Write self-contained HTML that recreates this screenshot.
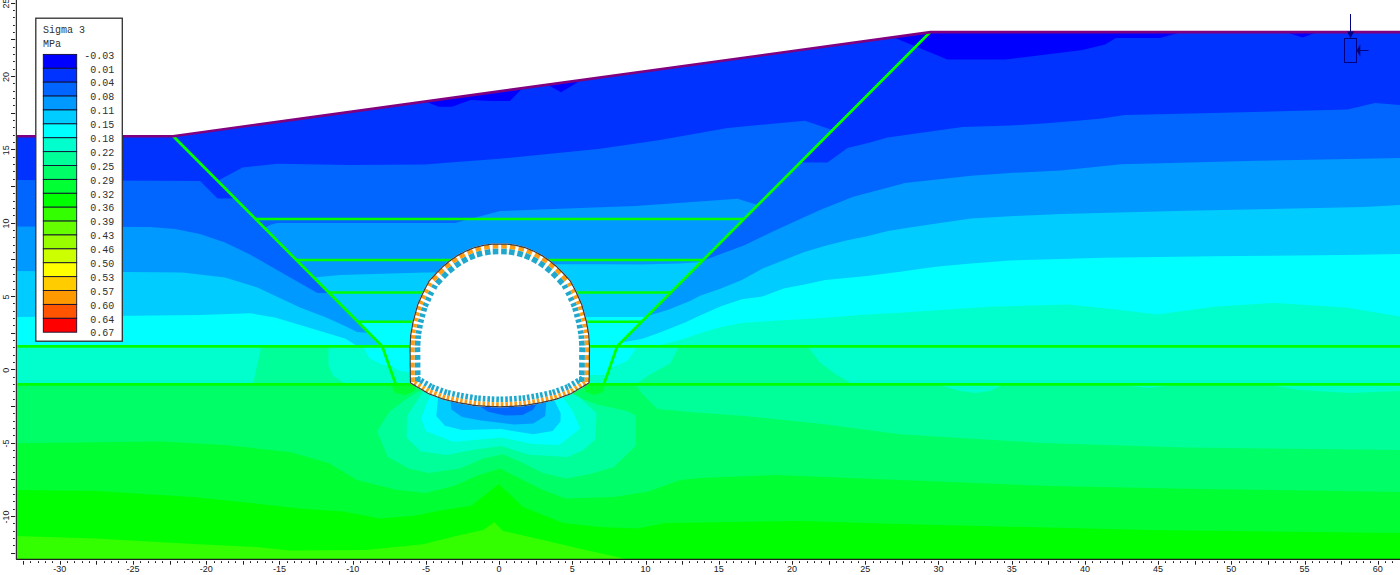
<!DOCTYPE html>
<html><head><meta charset="utf-8"><title>Sigma 3</title>
<style>html,body{margin:0;padding:0;background:#fff;overflow:hidden}svg{display:block}</style></head>
<body><svg width="1400" height="575" viewBox="0 0 1400 575">
<rect width="1400" height="575" fill="#fff"/>
<polygon points="16.0,136.0 173.0,136.0 930.5,31.7 1400.0,31.7 1400.0,559.5 16.0,559.5" fill="#0033ff" />
<polygon points="425.0,101.3 438.5,106.7 451.9,106.7 470.7,100.0 491.0,100.9 510.0,100.9 522.6,87.9" fill="#0000ff" />
<polygon points="547.0,84.5 561.0,92.2 582.3,79.6" fill="#0000ff" />
<polygon points="892.5,36.9 930.5,31.7 1182.5,31.7 1160.0,38.0 1116.0,38.0 1105.0,44.5 1082.5,50.0 1005.0,59.5 947.5,59.5" fill="#0000ff" />
<polygon points="1285.0,31.7 1302.5,37.5 1318.0,31.7" fill="#0000ff" />
<polygon points="16.0,180.0 200.0,181.0 217.5,198.5 235.4,198.5 382.2,346.3 16.0,346.3" fill="#0066ff" />
<polygon points="16.0,226.5 150.0,227.0 175.0,229.0 200.0,234.0 225.0,242.5 250.0,254.5 287.5,276.0 317.5,293.0 329.3,293.0 382.2,346.3 16.0,346.3" fill="#0099ff" />
<polygon points="16.0,271.0 182.5,272.5 225.0,277.5 257.5,287.5 300.0,307.5 325.0,317.0 346.0,326.5 357.0,332.0 369.0,333.0 382.2,346.3 16.0,346.3" fill="#00ccff" />
<polygon points="16.0,317.0 200.0,315.0 250.0,313.2 275.0,317.5 300.0,325.0 325.0,332.5 345.7,338.8 354.3,344.2 357.0,346.3 16.0,346.3" fill="#00ffff" />
<polygon points="800.0,162.5 827.5,162.5 847.5,148.0 870.0,142.5 887.5,137.5 962.5,127.0 1010.0,125.5 1050.0,123.0 1100.0,118.8 1125.0,115.0 1212.5,113.0 1347.5,109.5 1375.0,103.0 1400.0,105.0 1400.0,346.3 617.2,346.3" fill="#0066ff" />
<polygon points="702.0,261.0 745.0,245.0 775.0,230.5 820.0,210.0 852.5,197.0 905.0,183.0 971.0,175.7 1009.5,173.0 1060.7,170.4 1121.0,164.3 1257.0,160.7 1400.0,157.9 1400.0,346.3 617.2,346.3" fill="#0099ff" />
<polygon points="647.3,316.0 667.5,310.0 690.0,301.0 700.0,295.8 720.9,288.5 741.8,280.1 762.6,268.6 783.5,260.3 804.4,251.9 825.3,245.7 846.1,240.4 867.0,236.3 887.9,231.0 909.5,227.5 935.0,223.8 971.0,218.6 1009.5,216.2 1060.7,214.0 1185.7,210.7 1364.0,207.0 1400.0,205.0 1400.0,346.3 617.2,346.3" fill="#00ccff" />
<polygon points="621.0,342.5 642.5,338.8 660.0,332.5 685.0,322.5 700.0,315.6 720.9,306.2 741.8,299.2 762.6,296.5 783.5,288.5 804.4,284.5 825.3,280.1 846.1,278.0 867.0,276.0 900.0,271.8 935.7,266.7 971.0,263.5 1010.0,260.4 1103.0,257.8 1214.0,256.3 1344.0,254.9 1400.0,254.1 1400.0,346.3 617.2,346.3" fill="#00ffff" />
<polygon points="655.0,346.3 680.0,340.0 700.0,333.3 720.9,327.0 741.8,322.9 783.5,320.2 825.3,317.7 867.0,314.6 900.0,312.7 989.0,306.8 1068.0,304.6 1114.0,309.3 1157.0,314.6 1214.0,306.8 1275.0,302.9 1346.0,307.5 1400.0,316.4 1400.0,346.3" fill="#00ffcc" />
<polygon points="217.8,180.8 242.5,167.5 277.5,163.8 350.0,165.0 425.0,164.5 450.0,162.5 499.5,158.8 600.0,148.8 660.0,140.0 727.5,128.0 805.0,120.8 832.3,130.0 617.2,346.3 382.2,346.3" fill="#0066ff" />
<polygon points="264.7,228.0 270.0,225.0 277.0,223.0 455.0,223.0 500.0,211.0 560.0,208.8 635.0,206.0 685.0,202.5 737.5,198.8 757.7,205.0 617.2,346.3 382.2,346.3" fill="#0099ff" />
<polygon points="313.9,277.5 340.0,275.0 425.0,272.5 445.0,272.5 445.0,264.3 600.0,264.3 640.0,264.5 680.0,263.5 701.0,262.0 617.2,346.3 382.2,346.3" fill="#00ccff" />
<polygon points="357.8,321.8 430.0,321.8 430.0,317.0 646.4,317.0 617.2,346.3 382.2,346.3" fill="#00ffff" />
<polygon points="16.0,346.3 1400.0,346.3 1400.0,384.3 16.0,384.3" fill="#00ffcc" />
<polygon points="261.5,346.3 328.4,346.3 328.4,364.7 332.7,375.5 345.7,384.3 253.0,384.3" fill="#00ff99" />
<polygon points="363.0,346.3 369.4,358.2 382.3,364.7 390.0,366.0 400.0,371.0 411.0,372.5 411.0,346.3" fill="#00ffff" />
<polygon points="679.0,346.3 670.4,363.3 648.7,375.2 635.7,384.3 852.5,384.3 835.0,373.8 820.0,362.5 807.5,346.3" fill="#00ff99" />
<polygon points="589.0,346.3 636.5,346.3 635.0,350.0 627.0,361.0 611.7,367.6 606.0,375.0 589.0,375.0" fill="#00ffff" />
<polygon points="16.0,384.3 1400.0,384.3 1400.0,559.5 16.0,559.5" fill="#00ff66" />
<polygon points="635.7,384.3 642.0,393.7 657.4,409.0 690.0,412.0 745.0,416.0 820.0,423.8 900.0,434.3 1043.0,443.0 1186.0,447.5 1400.0,450.0 1400.0,384.3" fill="#00ff99" />
<polygon points="936.0,384.3 960.0,391.0 975.0,393.0 990.0,391.0 1004.0,384.3" fill="#00ffcc" />
<polygon points="1114.0,384.3 1148.0,388.0 1182.0,384.3" fill="#00ffcc" />
<polygon points="1264.0,384.3 1300.0,390.0 1350.0,393.0 1400.0,391.0 1400.0,384.3" fill="#00ffcc" />
<polygon points="16.0,443.2 161.0,441.6 225.0,445.0 289.6,452.0 328.6,463.0 357.0,480.0 397.0,490.0 425.7,493.0 454.3,485.7 477.0,475.7 500.0,468.6 517.0,477.0 543.0,490.0 565.7,498.6 614.0,497.0 648.6,491.4 680.0,480.0 700.0,478.0 775.0,475.0 900.0,480.0 1050.0,486.0 1200.0,489.0 1400.0,492.0 1400.0,559.5 16.0,559.5" fill="#00ff33" />
<polygon points="16.0,490.0 96.5,491.0 193.0,497.0 257.0,503.7 300.0,508.6 343.0,511.4 380.0,518.6 414.0,515.7 443.0,510.0 471.4,505.7 485.7,494.3 498.6,484.3 511.4,495.7 523.0,507.0 563.0,523.0 600.0,527.0 637.0,528.6 665.7,523.0 700.0,522.5 800.0,521.0 900.0,524.0 1000.0,526.5 1150.0,530.0 1400.0,533.0 1400.0,559.5 16.0,559.5" fill="#00ff00" />
<polygon points="16.0,536.0 96.5,538.5 193.0,544.0 257.0,547.0 289.6,550.4 365.7,550.0 423.0,544.3 457.0,535.7 483.0,530.0 494.3,522.3 503.0,530.9 543.0,540.0 585.7,550.0 628.6,559.5 16.0,559.5" fill="#33ff00" />
<polygon points="417.4,392.0 403.5,401.0 389.6,411.5 377.0,431.3 387.8,457.0 408.6,468.6 428.6,472.9 460.0,468.6 483.0,458.6 503.0,454.3 523.0,463.0 543.0,473.0 565.7,478.6 590.0,474.0 614.0,467.0 635.7,445.7 635.7,415.4 627.0,411.0 596.5,404.6 572.6,395.0 560.0,386.0 440.0,386.0" fill="#00ff99" />
<polygon points="423.3,391.0 407.0,416.0 406.5,437.5 421.0,451.5 447.0,455.0 475.0,449.4 501.0,446.0 529.0,454.8 567.8,457.0 583.5,450.0 595.4,439.3 596.5,413.3 578.6,396.6 570.4,393.0 560.0,386.0 440.0,386.0" fill="#00ffcc" />
<polygon points="430.9,393.0 421.2,418.0 425.5,431.0 453.5,441.9 501.0,437.5 533.3,444.0 559.2,445.0 580.2,428.5 572.6,411.0 561.7,396.0 560.0,386.0 440.0,386.0" fill="#00ffff" />
<polygon points="438.4,395.0 436.3,416.0 444.9,425.7 462.0,430.0 501.0,429.0 533.3,434.3 552.7,431.0 560.5,421.4 560.7,413.3 553.0,398.0 560.0,386.0 440.0,386.0" fill="#00ccff" />
<polygon points="450.3,398.0 451.4,409.5 462.0,417.0 479.4,420.3 514.0,424.6 533.3,423.5 545.2,416.0 546.5,400.0 560.0,386.0 440.0,386.0" fill="#0099ff" />
<polygon points="475.0,403.0 488.0,411.7 505.3,415.5 522.5,415.0 533.3,409.5 537.6,402.0 500.0,395.0" fill="#0066ff" />
<polygon points="391.0,384.3 417.0,384.3 414.0,391.0 405.0,395.0 395.0,393.0" fill="#00ff33" />
<polygon points="583.0,384.3 605.0,384.3 603.0,392.0 594.0,395.0 586.0,392.0" fill="#00ff33" />
<line x1="16.0" y1="346.3" x2="1400.0" y2="346.3" stroke="#00ff00" stroke-width="2.70" />
<line x1="16.0" y1="384.3" x2="1400.0" y2="384.3" stroke="#00ff00" stroke-width="2.70" />
<polyline points="173,136 382.2,346.3 395.6,384" fill="none" stroke="#00ff00" stroke-width="2.70"/>
<polyline points="930.5,31.7 617.2,346.3 604,384" fill="none" stroke="#00ff00" stroke-width="2.70"/>
<line x1="255.8" y1="219.0" x2="743.8" y2="219.0" stroke="#00ff00" stroke-width="2.60" />
<line x1="296.5" y1="260.0" x2="703.0" y2="260.0" stroke="#00ff00" stroke-width="2.60" />
<line x1="328.8" y1="292.5" x2="670.7" y2="292.5" stroke="#00ff00" stroke-width="2.60" />
<line x1="357.8" y1="321.8" x2="641.6" y2="321.8" stroke="#00ff00" stroke-width="2.60" />
<polyline points="16,136.2 173,136.2 930.5,32.1 1400,32.1" fill="none" stroke="#800080" stroke-width="2.6"/>
<polygon points="499.8,243.4 498.7,243.4 497.7,243.4 496.7,243.4 495.6,243.4 494.6,243.5 493.6,243.5 492.5,243.5 491.5,243.5 490.5,243.7 489.4,243.8 488.4,244.0 487.4,244.2 486.4,244.3 485.4,244.5 484.3,244.6 483.3,244.8 482.3,245.0 481.3,245.3 480.3,245.5 479.3,245.8 478.2,246.0 477.2,246.3 476.2,246.5 475.2,246.8 474.2,247.0 473.2,247.4 472.2,247.8 471.2,248.2 470.2,248.6 469.2,249.1 468.2,249.5 467.2,249.9 466.2,250.3 465.2,250.7 464.3,251.2 463.4,251.7 462.5,252.2 461.6,252.7 460.7,253.1 459.8,253.6 458.9,254.1 458.0,254.6 457.1,255.1 456.2,255.6 455.4,256.2 454.5,256.8 453.7,257.4 452.8,257.9 452.0,258.5 451.1,259.1 450.3,259.7 449.4,260.4 448.6,261.1 447.7,261.8 446.9,262.5 446.0,263.2 445.2,263.9 444.3,264.6 443.5,265.3 442.6,266.0 441.9,266.7 441.2,267.5 440.4,268.2 439.7,268.9 439.0,269.6 438.3,270.4 437.6,271.1 436.8,271.8 436.1,272.6 435.4,273.3 434.7,274.0 434.0,274.8 433.4,275.5 432.7,276.3 432.0,277.0 431.3,277.7 430.6,278.5 430.0,279.2 429.3,280.0 428.6,280.7 428.1,281.6 427.7,282.5 427.2,283.4 426.7,284.3 426.2,285.2 425.8,286.0 425.3,286.9 424.8,287.8 424.3,288.7 423.9,289.6 423.4,290.5 423.0,291.4 422.6,292.3 422.2,293.3 421.7,294.2 421.3,295.1 420.9,296.0 420.5,296.9 420.1,297.9 419.7,298.8 419.3,299.7 418.9,300.6 418.4,301.5 418.0,302.5 417.6,303.4 417.2,304.3 416.9,305.3 416.6,306.3 416.4,307.3 416.1,308.3 415.8,309.3 415.5,310.3 415.3,311.3 415.0,312.3 414.7,313.4 414.4,314.4 414.2,315.4 413.9,316.4 413.6,317.4 413.3,318.4 413.1,319.4 412.8,320.4 412.5,321.4 412.3,322.4 412.1,323.4 411.9,324.5 411.8,325.5 411.6,326.5 411.4,327.5 411.2,328.6 411.0,329.6 410.8,330.6 410.7,331.6 410.5,332.7 410.3,333.7 410.1,334.7 410.0,335.8 410.0,336.8 409.9,337.9 409.8,338.9 409.8,340.0 409.7,341.0 409.7,342.1 409.6,343.1 409.5,344.2 409.5,345.2 409.4,346.3 409.4,347.4 409.4,348.4 409.4,349.5 409.4,350.5 409.4,351.6 409.4,352.6 409.5,353.7 409.5,354.7 409.5,355.8 409.5,356.8 409.5,357.9 409.5,358.9 409.5,360.0 409.5,361.0 409.5,362.1 409.5,363.1 409.5,364.2 409.5,365.2 409.5,366.3 409.5,367.3 409.6,368.4 409.6,369.4 409.6,370.5 409.6,371.5 409.6,372.6 409.6,373.6 409.6,374.7 409.6,375.7 409.6,376.8 409.7,377.9 409.7,379.0 409.7,380.0 409.7,381.1 409.8,382.2 409.8,383.3 410.7,383.8 411.6,384.3 412.5,384.9 413.4,385.4 414.3,385.9 415.1,386.4 416.0,387.0 416.9,387.5 417.8,388.0 418.7,388.5 419.6,389.1 420.5,389.6 421.4,390.1 422.3,390.6 423.2,391.2 424.0,391.7 424.9,392.2 425.8,392.7 426.7,393.3 427.6,393.8 428.5,394.3 429.5,394.7 430.4,395.0 431.4,395.4 432.4,395.8 433.4,396.1 434.4,396.5 435.3,396.8 436.3,397.2 437.3,397.6 438.2,397.9 439.2,398.3 440.2,398.7 441.2,399.0 442.2,399.4 443.1,399.7 444.1,400.1 445.1,400.3 446.1,400.5 447.0,400.8 448.0,401.0 449.0,401.2 450.0,401.4 451.0,401.6 452.0,401.9 452.9,402.1 453.9,402.3 454.9,402.5 455.9,402.7 456.9,402.9 457.8,403.2 458.8,403.4 459.8,403.6 460.8,403.8 461.9,403.9 462.9,404.1 464.0,404.3 465.0,404.5 466.0,404.6 467.1,404.8 468.1,405.0 469.2,405.2 470.2,405.3 471.2,405.5 472.3,405.7 473.3,405.9 474.4,406.0 475.4,406.2 476.4,406.3 477.5,406.3 478.5,406.4 479.6,406.5 480.6,406.5 481.7,406.6 482.7,406.7 483.8,406.7 484.8,406.8 485.9,406.9 486.9,406.9 488.0,407.0 489.0,407.1 490.1,407.1 491.1,407.2 492.2,407.2 493.3,407.2 494.3,407.3 495.4,407.3 496.5,407.3 497.6,407.3 498.7,407.4 499.8,407.4 500.8,407.4 501.9,407.3 503.0,407.3 504.1,407.3 505.2,407.3 506.2,407.2 507.3,407.2 508.4,407.2 509.4,407.1 510.5,407.1 511.5,407.0 512.6,406.9 513.6,406.9 514.7,406.8 515.7,406.7 516.8,406.7 517.8,406.6 518.9,406.5 519.9,406.5 521.0,406.4 522.0,406.3 523.1,406.3 524.1,406.2 525.1,406.0 526.2,405.9 527.2,405.7 528.3,405.5 529.3,405.3 530.3,405.2 531.4,405.0 532.4,404.8 533.5,404.6 534.5,404.5 535.5,404.3 536.6,404.1 537.6,403.9 538.7,403.8 539.7,403.6 540.7,403.4 541.7,403.2 542.6,402.9 543.6,402.7 544.6,402.5 545.6,402.3 546.6,402.1 547.5,401.9 548.5,401.6 549.5,401.4 550.5,401.2 551.5,401.0 552.5,400.8 553.4,400.5 554.4,400.3 555.4,400.1 556.4,399.7 557.3,399.4 558.3,399.0 559.3,398.7 560.3,398.3 561.2,397.9 562.2,397.6 563.2,397.2 564.2,396.8 565.1,396.5 566.1,396.1 567.1,395.8 568.1,395.4 569.0,395.0 570.0,394.7 571.0,394.3 571.9,393.8 572.8,393.3 573.7,392.7 574.6,392.2 575.5,391.7 576.3,391.2 577.2,390.6 578.1,390.1 579.0,389.6 579.9,389.1 580.8,388.5 581.7,388.0 582.6,387.5 583.5,387.0 584.4,386.4 585.2,385.9 586.1,385.4 587.0,384.9 587.9,384.3 588.8,383.8 589.7,383.3 589.7,382.2 589.8,381.1 589.8,380.0 589.8,379.0 589.8,377.9 589.9,376.8 589.9,375.7 589.9,374.7 589.9,373.6 589.9,372.6 589.9,371.5 589.9,370.5 589.9,369.4 589.9,368.4 590.0,367.3 590.0,366.3 590.0,365.2 590.0,364.2 590.0,363.1 590.0,362.1 590.0,361.0 590.0,360.0 590.0,358.9 590.0,357.9 590.0,356.8 590.0,355.8 590.0,354.7 590.0,353.7 590.1,352.6 590.1,351.6 590.1,350.5 590.1,349.5 590.1,348.4 590.1,347.4 590.1,346.3 590.0,345.2 590.0,344.2 589.9,343.1 589.8,342.1 589.8,341.0 589.7,340.0 589.7,338.9 589.6,337.9 589.5,336.8 589.5,335.8 589.4,334.7 589.2,333.7 589.0,332.7 588.8,331.6 588.7,330.6 588.5,329.6 588.3,328.6 588.1,327.5 587.9,326.5 587.7,325.5 587.6,324.5 587.4,323.4 587.2,322.4 587.0,321.4 586.7,320.4 586.4,319.4 586.2,318.4 585.9,317.4 585.6,316.4 585.3,315.4 585.1,314.4 584.8,313.4 584.5,312.3 584.2,311.3 584.0,310.3 583.7,309.3 583.4,308.3 583.1,307.3 582.9,306.3 582.6,305.3 582.3,304.3 581.9,303.4 581.5,302.5 581.1,301.5 580.6,300.6 580.2,299.7 579.8,298.8 579.4,297.9 579.0,296.9 578.6,296.0 578.2,295.1 577.8,294.2 577.3,293.3 576.9,292.3 576.5,291.4 576.1,290.5 575.6,289.6 575.2,288.7 574.7,287.8 574.2,286.9 573.7,286.0 573.3,285.2 572.8,284.3 572.3,283.4 571.8,282.5 571.4,281.6 570.9,280.7 570.2,280.0 569.5,279.2 568.9,278.5 568.2,277.7 567.5,277.0 566.8,276.3 566.1,275.5 565.5,274.8 564.8,274.0 564.1,273.3 563.4,272.6 562.7,271.8 561.9,271.1 561.2,270.4 560.5,269.6 559.8,268.9 559.1,268.2 558.3,267.5 557.6,266.7 556.9,266.0 556.0,265.3 555.2,264.6 554.3,263.9 553.5,263.2 552.6,262.5 551.8,261.8 550.9,261.1 550.1,260.4 549.2,259.7 548.4,259.1 547.5,258.5 546.7,257.9 545.8,257.4 545.0,256.8 544.1,256.2 543.3,255.6 542.4,255.1 541.5,254.6 540.6,254.1 539.7,253.6 538.8,253.1 537.9,252.7 537.0,252.2 536.1,251.7 535.2,251.2 534.3,250.7 533.3,250.3 532.3,249.9 531.3,249.5 530.3,249.1 529.3,248.6 528.3,248.2 527.3,247.8 526.3,247.4 525.3,247.0 524.3,246.8 523.3,246.5 522.3,246.3 521.3,246.0 520.2,245.8 519.2,245.5 518.2,245.3 517.2,245.0 516.2,244.8 515.2,244.6 514.1,244.5 513.1,244.3 512.1,244.2 511.1,244.0 510.1,243.8 509.0,243.7 508.0,243.5 507.0,243.5 505.9,243.5 504.9,243.5 503.9,243.4 502.8,243.4 501.8,243.4 500.8,243.4" fill="#ffffff" />
<polygon points="498.3,248.5 492.7,248.6 492.8,254.4 498.4,254.3" fill="#1fa8cc" />
<polygon points="506.8,248.6 501.2,248.5 501.1,254.3 506.7,254.4" fill="#1fa8cc" />
<polygon points="490.0,248.9 484.5,249.8 485.4,255.5 490.9,254.6" fill="#1fa8cc" />
<polygon points="515.0,249.8 509.5,248.9 508.6,254.6 514.1,255.5" fill="#1fa8cc" />
<polygon points="481.5,250.5 476.0,251.8 477.4,257.4 482.8,256.1" fill="#1fa8cc" />
<polygon points="523.5,251.8 518.0,250.5 516.7,256.1 522.1,257.4" fill="#1fa8cc" />
<polygon points="473.5,252.8 468.3,254.9 470.6,260.3 475.7,258.2" fill="#1fa8cc" />
<polygon points="531.2,254.9 526.0,252.8 523.8,258.2 528.9,260.3" fill="#1fa8cc" />
<polygon points="465.7,256.2 460.8,258.9 463.6,264.0 468.5,261.3" fill="#1fa8cc" />
<polygon points="538.7,258.9 533.8,256.2 531.0,261.3 535.9,264.0" fill="#1fa8cc" />
<polygon points="458.3,260.4 453.7,263.6 457.0,268.3 461.6,265.1" fill="#1fa8cc" />
<polygon points="545.8,263.6 541.2,260.4 537.9,265.1 542.5,268.3" fill="#1fa8cc" />
<polygon points="451.3,265.5 447.0,269.0 450.6,273.5 455.0,270.0" fill="#1fa8cc" />
<polygon points="552.5,269.0 548.2,265.5 544.5,270.0 548.9,273.5" fill="#1fa8cc" />
<polygon points="444.8,271.0 440.9,275.0 445.0,279.1 448.9,275.1" fill="#1fa8cc" />
<polygon points="558.6,275.0 554.7,271.0 550.6,275.1 554.5,279.1" fill="#1fa8cc" />
<polygon points="438.6,277.4 434.8,281.5 439.1,285.4 442.8,281.3" fill="#1fa8cc" />
<polygon points="564.7,281.5 560.9,277.4 556.7,281.3 560.4,285.4" fill="#1fa8cc" />
<polygon points="432.7,283.9 431.0,287.0 436.2,289.7 437.8,286.6" fill="#1fa8cc" />
<polygon points="568.5,287.0 566.8,283.9 561.7,286.6 563.3,289.7" fill="#1fa8cc" />
<polygon points="429.1,290.6 427.5,293.7 432.7,296.3 434.3,293.2" fill="#1fa8cc" />
<polygon points="572.0,293.7 570.4,290.6 565.2,293.2 566.8,296.3" fill="#1fa8cc" />
<polygon points="426.4,296.3 424.9,299.5 430.2,301.9 431.7,298.7" fill="#1fa8cc" />
<polygon points="574.6,299.5 573.1,296.3 567.8,298.7 569.3,301.9" fill="#1fa8cc" />
<polygon points="423.8,301.9 422.4,305.1 427.7,307.5 429.1,304.3" fill="#1fa8cc" />
<polygon points="577.1,305.1 575.7,301.9 570.4,304.3 571.8,307.5" fill="#1fa8cc" />
<polygon points="421.7,307.0 420.8,310.4 426.4,311.9 427.3,308.5" fill="#1fa8cc" />
<polygon points="578.7,310.4 577.8,307.0 572.2,308.5 573.1,311.9" fill="#1fa8cc" />
<polygon points="420.1,312.9 419.2,316.2 424.8,317.8 425.7,314.4" fill="#1fa8cc" />
<polygon points="580.3,316.2 579.4,312.9 573.8,314.4 574.7,317.8" fill="#1fa8cc" />
<polygon points="418.6,318.4 417.7,321.8 423.3,323.3 424.2,320.0" fill="#1fa8cc" />
<polygon points="581.8,321.8 580.9,318.4 575.3,320.0 576.2,323.3" fill="#1fa8cc" />
<polygon points="417.2,324.3 416.5,327.7 422.3,328.7 422.9,325.3" fill="#1fa8cc" />
<polygon points="583.0,327.7 582.3,324.3 576.6,325.3 577.2,328.7" fill="#1fa8cc" />
<polygon points="416.2,329.9 415.5,333.3 421.2,334.3 421.9,330.9" fill="#1fa8cc" />
<polygon points="584.0,333.3 583.3,329.9 577.6,330.9 578.3,334.3" fill="#1fa8cc" />
<polygon points="415.2,335.2 415.0,338.7 420.8,339.0 421.0,335.5" fill="#1fa8cc" />
<polygon points="584.5,338.7 584.3,335.2 578.5,335.5 578.7,339.0" fill="#1fa8cc" />
<polygon points="414.9,340.6 414.6,345.4 420.4,345.7 420.6,340.9" fill="#1fa8cc" />
<polygon points="584.9,345.4 584.6,340.6 578.9,340.9 579.1,345.7" fill="#1fa8cc" />
<polygon points="414.5,347.4 414.5,352.2 420.3,352.1 420.3,347.3" fill="#1fa8cc" />
<polygon points="585.0,352.2 585.0,347.4 579.2,347.3 579.2,352.1" fill="#1fa8cc" />
<polygon points="414.6,355.1 414.6,359.9 420.4,359.8 420.4,355.0" fill="#1fa8cc" />
<polygon points="584.9,359.9 584.9,355.1 579.1,355.0 579.1,359.8" fill="#1fa8cc" />
<polygon points="414.6,362.7 414.6,367.5 420.4,367.4 420.4,362.6" fill="#1fa8cc" />
<polygon points="584.9,367.5 584.9,362.7 579.1,362.6 579.1,367.4" fill="#1fa8cc" />
<polygon points="414.7,370.4 414.7,375.2 420.5,375.1 420.5,370.3" fill="#1fa8cc" />
<polygon points="584.8,375.2 584.8,370.4 579.0,370.3 579.0,375.1" fill="#1fa8cc" />
<polygon points="414.7,377.3 414.9,382.1 420.7,381.9 420.5,377.1" fill="#1fa8cc" />
<polygon points="584.6,382.1 584.8,377.3 579.0,377.1 578.8,381.9" fill="#1fa8cc" />
<polygon points="496.2,402.2 498.8,402.3 499.0,396.5 496.4,396.4" fill="#1fa8cc" />
<polygon points="500.7,402.3 503.3,402.2 503.1,396.4 500.5,396.5" fill="#1fa8cc" />
<polygon points="491.6,402.1 494.2,402.2 494.4,396.4 491.8,396.3" fill="#1fa8cc" />
<polygon points="505.3,402.2 507.9,402.1 507.7,396.3 505.1,396.4" fill="#1fa8cc" />
<polygon points="487.2,401.8 489.8,402.0 490.2,396.2 487.6,396.1" fill="#1fa8cc" />
<polygon points="509.7,402.0 512.3,401.8 511.9,396.1 509.3,396.2" fill="#1fa8cc" />
<polygon points="482.6,401.6 485.2,401.7 485.6,395.9 483.0,395.8" fill="#1fa8cc" />
<polygon points="514.3,401.7 516.9,401.6 516.5,395.8 513.9,395.9" fill="#1fa8cc" />
<polygon points="478.1,401.3 480.6,401.4 481.0,395.6 478.4,395.5" fill="#1fa8cc" />
<polygon points="518.9,401.4 521.4,401.3 521.1,395.5 518.5,395.6" fill="#1fa8cc" />
<polygon points="473.9,400.8 476.4,401.2 477.2,395.4 474.7,395.1" fill="#1fa8cc" />
<polygon points="523.1,401.2 525.6,400.8 524.8,395.1 522.3,395.4" fill="#1fa8cc" />
<polygon points="469.5,400.0 472.0,400.5 473.0,394.7 470.4,394.3" fill="#1fa8cc" />
<polygon points="527.5,400.5 530.0,400.0 529.1,394.3 526.5,394.7" fill="#1fa8cc" />
<polygon points="464.9,399.3 467.5,399.7 468.4,394.0 465.9,393.6" fill="#1fa8cc" />
<polygon points="532.0,399.7 534.6,399.3 533.6,393.6 531.1,394.0" fill="#1fa8cc" />
<polygon points="460.5,398.5 463.0,399.0 464.0,393.3 461.5,392.8" fill="#1fa8cc" />
<polygon points="536.5,399.0 539.0,398.5 538.0,392.8 535.5,393.3" fill="#1fa8cc" />
<polygon points="456.2,397.6 458.7,398.1 460.0,392.5 457.4,391.9" fill="#1fa8cc" />
<polygon points="540.8,398.1 543.3,397.6 542.1,391.9 539.5,392.5" fill="#1fa8cc" />
<polygon points="451.7,396.6 454.2,397.1 455.5,391.5 452.9,390.9" fill="#1fa8cc" />
<polygon points="545.3,397.1 547.8,396.6 546.6,390.9 544.0,391.5" fill="#1fa8cc" />
<polygon points="447.2,395.6 449.7,396.1 451.0,390.5 448.5,389.9" fill="#1fa8cc" />
<polygon points="549.8,396.1 552.3,395.6 551.0,389.9 548.5,390.5" fill="#1fa8cc" />
<polygon points="443.3,394.4 445.8,395.3 447.7,389.8 445.2,388.9" fill="#1fa8cc" />
<polygon points="553.7,395.3 556.2,394.4 554.3,388.9 551.8,389.8" fill="#1fa8cc" />
<polygon points="439.2,392.8 441.6,393.7 443.6,388.3 441.2,387.4" fill="#1fa8cc" />
<polygon points="557.9,393.7 560.3,392.8 558.3,387.4 555.9,388.3" fill="#1fa8cc" />
<polygon points="434.8,391.2 437.3,392.1 439.3,386.7 436.9,385.8" fill="#1fa8cc" />
<polygon points="562.2,392.1 564.7,391.2 562.6,385.8 560.2,386.7" fill="#1fa8cc" />
<polygon points="430.6,389.6 433.1,390.6 435.2,385.2 432.8,384.2" fill="#1fa8cc" />
<polygon points="566.4,390.6 568.9,389.6 566.7,384.2 564.3,385.2" fill="#1fa8cc" />
<polygon points="427.4,387.7 429.6,389.0 432.5,384.0 430.3,382.7" fill="#1fa8cc" />
<polygon points="569.9,389.0 572.1,387.7 569.2,382.7 567.0,384.0" fill="#1fa8cc" />
<polygon points="423.4,385.4 425.6,386.7 428.6,381.7 426.3,380.4" fill="#1fa8cc" />
<polygon points="573.9,386.7 576.1,385.4 573.2,380.4 570.9,381.7" fill="#1fa8cc" />
<polygon points="419.4,383.0 421.7,384.4 424.6,379.4 422.4,378.0" fill="#1fa8cc" />
<polygon points="577.8,384.4 580.1,383.0 577.1,378.0 574.9,379.4" fill="#1fa8cc" />
<polygon points="415.5,380.7 417.7,382.0 420.6,377.0 418.4,375.7" fill="#1fa8cc" />
<polygon points="581.8,382.0 584.0,380.7 581.1,375.7 578.9,377.0" fill="#1fa8cc" />
<polygon points="498.3,244.1 492.7,244.2 492.7,248.6 498.3,248.5" fill="#ff9c12" />
<polygon points="506.8,244.2 501.2,244.1 501.2,248.5 506.8,248.6" fill="#ff9c12" />
<polygon points="489.3,244.6 483.8,245.4 484.5,249.8 490.0,248.9" fill="#ff9c12" />
<polygon points="515.7,245.4 510.2,244.6 509.5,248.9 515.0,249.8" fill="#ff9c12" />
<polygon points="480.4,246.2 475.0,247.5 476.0,251.8 481.5,250.5" fill="#ff9c12" />
<polygon points="524.5,247.5 519.1,246.2 518.0,250.5 523.5,251.8" fill="#ff9c12" />
<polygon points="471.9,248.7 466.7,250.8 468.3,254.9 473.5,252.8" fill="#ff9c12" />
<polygon points="532.8,250.8 527.6,248.7 526.0,252.8 531.2,254.9" fill="#ff9c12" />
<polygon points="463.6,252.4 458.7,255.0 460.8,258.9 465.7,256.2" fill="#ff9c12" />
<polygon points="540.8,255.0 535.9,252.4 533.8,256.2 538.7,258.9" fill="#ff9c12" />
<polygon points="455.8,256.7 451.2,259.9 453.7,263.6 458.3,260.4" fill="#ff9c12" />
<polygon points="548.3,259.9 543.7,256.7 541.2,260.4 545.8,263.6" fill="#ff9c12" />
<polygon points="448.5,262.1 444.2,265.6 447.0,269.0 451.3,265.5" fill="#ff9c12" />
<polygon points="555.3,265.6 551.0,262.1 548.2,265.5 552.5,269.0" fill="#ff9c12" />
<polygon points="441.7,267.9 437.7,271.9 440.9,275.0 444.8,271.0" fill="#ff9c12" />
<polygon points="561.8,271.9 557.8,267.9 554.7,271.0 558.6,275.0" fill="#ff9c12" />
<polygon points="435.3,274.4 431.6,278.5 434.8,281.5 438.6,277.4" fill="#ff9c12" />
<polygon points="567.9,278.5 564.2,274.4 560.9,277.4 564.7,281.5" fill="#ff9c12" />
<polygon points="428.8,281.9 427.1,284.9 431.0,287.0 432.7,283.9" fill="#ff9c12" />
<polygon points="572.4,284.9 570.7,281.9 566.8,283.9 568.5,287.0" fill="#ff9c12" />
<polygon points="425.2,288.6 423.6,291.7 427.5,293.7 429.1,290.6" fill="#ff9c12" />
<polygon points="575.9,291.7 574.3,288.6 570.4,290.6 572.0,293.7" fill="#ff9c12" />
<polygon points="422.4,294.5 420.9,297.7 424.9,299.5 426.4,296.3" fill="#ff9c12" />
<polygon points="578.6,297.7 577.1,294.5 573.1,296.3 574.6,299.5" fill="#ff9c12" />
<polygon points="419.8,300.1 418.4,303.3 422.4,305.1 423.8,301.9" fill="#ff9c12" />
<polygon points="581.1,303.3 579.7,300.1 575.7,301.9 577.1,305.1" fill="#ff9c12" />
<polygon points="417.5,305.8 416.6,309.2 420.8,310.4 421.7,307.0" fill="#ff9c12" />
<polygon points="582.9,309.2 582.0,305.8 577.8,307.0 578.7,310.4" fill="#ff9c12" />
<polygon points="415.9,311.7 415.0,315.1 419.2,316.2 420.1,312.9" fill="#ff9c12" />
<polygon points="584.5,315.1 583.6,311.7 579.4,312.9 580.3,316.2" fill="#ff9c12" />
<polygon points="414.4,317.3 413.4,320.6 417.7,321.8 418.6,318.4" fill="#ff9c12" />
<polygon points="586.1,320.6 585.1,317.3 580.9,318.4 581.8,321.8" fill="#ff9c12" />
<polygon points="412.8,323.5 412.2,326.9 416.5,327.7 417.2,324.3" fill="#ff9c12" />
<polygon points="587.3,326.9 586.7,323.5 582.3,324.3 583.0,327.7" fill="#ff9c12" />
<polygon points="411.8,329.1 411.2,332.5 415.5,333.3 416.2,329.9" fill="#ff9c12" />
<polygon points="588.3,332.5 587.7,329.1 583.3,329.9 584.0,333.3" fill="#ff9c12" />
<polygon points="410.8,334.9 410.6,338.4 415.0,338.7 415.2,335.2" fill="#ff9c12" />
<polygon points="588.9,338.4 588.7,334.9 584.3,335.2 584.5,338.7" fill="#ff9c12" />
<polygon points="410.5,340.3 410.2,345.1 414.6,345.4 414.9,340.6" fill="#ff9c12" />
<polygon points="589.3,345.1 589.0,340.3 584.6,340.6 584.9,345.4" fill="#ff9c12" />
<polygon points="410.1,347.4 410.1,352.2 414.5,352.2 414.5,347.4" fill="#ff9c12" />
<polygon points="589.4,352.2 589.4,347.4 585.0,347.4 585.0,352.2" fill="#ff9c12" />
<polygon points="410.2,355.1 410.2,359.9 414.6,359.9 414.6,355.1" fill="#ff9c12" />
<polygon points="589.3,359.9 589.3,355.1 584.9,355.1 584.9,359.9" fill="#ff9c12" />
<polygon points="410.2,362.7 410.2,367.5 414.6,367.5 414.6,362.7" fill="#ff9c12" />
<polygon points="589.3,367.5 589.3,362.7 584.9,362.7 584.9,367.5" fill="#ff9c12" />
<polygon points="410.3,370.4 410.3,375.2 414.7,375.2 414.7,370.4" fill="#ff9c12" />
<polygon points="589.2,375.2 589.2,370.4 584.8,370.4 584.8,375.2" fill="#ff9c12" />
<polygon points="410.3,377.4 410.5,382.2 414.9,382.1 414.7,377.3" fill="#ff9c12" />
<polygon points="589.0,382.2 589.2,377.4 584.8,377.3 584.6,382.1" fill="#ff9c12" />
<polygon points="496.1,406.6 498.7,406.7 498.8,402.3 496.2,402.2" fill="#ff9c12" />
<polygon points="500.8,406.7 503.4,406.6 503.3,402.2 500.7,402.3" fill="#ff9c12" />
<polygon points="491.5,406.5 494.1,406.6 494.2,402.2 491.6,402.1" fill="#ff9c12" />
<polygon points="505.4,406.6 508.0,406.5 507.9,402.1 505.3,402.2" fill="#ff9c12" />
<polygon points="487.0,406.2 489.6,406.4 489.8,402.0 487.2,401.8" fill="#ff9c12" />
<polygon points="509.9,406.4 512.5,406.2 512.3,401.8 509.7,402.0" fill="#ff9c12" />
<polygon points="482.4,405.9 485.0,406.1 485.2,401.7 482.6,401.6" fill="#ff9c12" />
<polygon points="514.5,406.1 517.1,405.9 516.9,401.6 514.3,401.7" fill="#ff9c12" />
<polygon points="477.8,405.6 480.4,405.8 480.6,401.4 478.1,401.3" fill="#ff9c12" />
<polygon points="519.1,405.8 521.7,405.6 521.4,401.3 518.9,401.4" fill="#ff9c12" />
<polygon points="473.3,405.2 475.8,405.5 476.4,401.2 473.9,400.8" fill="#ff9c12" />
<polygon points="523.7,405.5 526.2,405.2 525.6,400.8 523.1,401.2" fill="#ff9c12" />
<polygon points="468.7,404.4 471.3,404.8 472.0,400.5 469.5,400.0" fill="#ff9c12" />
<polygon points="528.2,404.8 530.8,404.4 530.0,400.0 527.5,400.5" fill="#ff9c12" />
<polygon points="464.2,403.6 466.8,404.1 467.5,399.7 464.9,399.3" fill="#ff9c12" />
<polygon points="532.7,404.1 535.3,403.6 534.6,399.3 532.0,399.7" fill="#ff9c12" />
<polygon points="459.7,402.9 462.2,403.3 463.0,399.0 460.5,398.5" fill="#ff9c12" />
<polygon points="537.3,403.3 539.8,402.9 539.0,398.5 536.5,399.0" fill="#ff9c12" />
<polygon points="455.2,401.9 457.8,402.4 458.7,398.1 456.2,397.6" fill="#ff9c12" />
<polygon points="541.7,402.4 544.3,401.9 543.3,397.6 540.8,398.1" fill="#ff9c12" />
<polygon points="450.7,400.9 453.3,401.4 454.2,397.1 451.7,396.6" fill="#ff9c12" />
<polygon points="546.2,401.4 548.8,400.9 547.8,396.6 545.3,397.1" fill="#ff9c12" />
<polygon points="446.2,399.9 448.8,400.4 449.7,396.1 447.2,395.6" fill="#ff9c12" />
<polygon points="550.7,400.4 553.3,399.9 552.3,395.6 549.8,396.1" fill="#ff9c12" />
<polygon points="441.9,398.6 444.4,399.4 445.8,395.3 443.3,394.4" fill="#ff9c12" />
<polygon points="555.1,399.4 557.6,398.6 556.2,394.4 553.7,395.3" fill="#ff9c12" />
<polygon points="437.6,396.9 440.1,397.9 441.6,393.7 439.2,392.8" fill="#ff9c12" />
<polygon points="559.4,397.9 561.9,396.9 560.3,392.8 557.9,393.7" fill="#ff9c12" />
<polygon points="433.3,395.3 435.8,396.2 437.3,392.1 434.8,391.2" fill="#ff9c12" />
<polygon points="563.7,396.2 566.2,395.3 564.7,391.2 562.2,392.1" fill="#ff9c12" />
<polygon points="429.0,393.7 431.4,394.7 433.1,390.6 430.6,389.6" fill="#ff9c12" />
<polygon points="568.1,394.7 570.5,393.7 568.9,389.6 566.4,390.6" fill="#ff9c12" />
<polygon points="425.1,391.5 427.4,392.8 429.6,389.0 427.4,387.7" fill="#ff9c12" />
<polygon points="572.1,392.8 574.4,391.5 572.1,387.7 569.9,389.0" fill="#ff9c12" />
<polygon points="421.2,389.2 423.4,390.5 425.6,386.7 423.4,385.4" fill="#ff9c12" />
<polygon points="576.1,390.5 578.3,389.2 576.1,385.4 573.9,386.7" fill="#ff9c12" />
<polygon points="417.2,386.8 419.4,388.2 421.7,384.4 419.4,383.0" fill="#ff9c12" />
<polygon points="580.1,388.2 582.3,386.8 580.1,383.0 577.8,384.4" fill="#ff9c12" />
<polygon points="413.2,384.5 415.5,385.8 417.7,382.0 415.5,380.7" fill="#ff9c12" />
<polygon points="584.0,385.8 586.3,384.5 584.0,380.7 581.8,382.0" fill="#ff9c12" />
<clipPath id="tc"><polygon points="499.8,243.4 498.7,243.4 497.7,243.4 496.7,243.4 495.6,243.4 494.6,243.5 493.6,243.5 492.5,243.5 491.5,243.5 490.5,243.7 489.4,243.8 488.4,244.0 487.4,244.2 486.4,244.3 485.4,244.5 484.3,244.6 483.3,244.8 482.3,245.0 481.3,245.3 480.3,245.5 479.3,245.8 478.2,246.0 477.2,246.3 476.2,246.5 475.2,246.8 474.2,247.0 473.2,247.4 472.2,247.8 471.2,248.2 470.2,248.6 469.2,249.1 468.2,249.5 467.2,249.9 466.2,250.3 465.2,250.7 464.3,251.2 463.4,251.7 462.5,252.2 461.6,252.7 460.7,253.1 459.8,253.6 458.9,254.1 458.0,254.6 457.1,255.1 456.2,255.6 455.4,256.2 454.5,256.8 453.7,257.4 452.8,257.9 452.0,258.5 451.1,259.1 450.3,259.7 449.4,260.4 448.6,261.1 447.7,261.8 446.9,262.5 446.0,263.2 445.2,263.9 444.3,264.6 443.5,265.3 442.6,266.0 441.9,266.7 441.2,267.5 440.4,268.2 439.7,268.9 439.0,269.6 438.3,270.4 437.6,271.1 436.8,271.8 436.1,272.6 435.4,273.3 434.7,274.0 434.0,274.8 433.4,275.5 432.7,276.3 432.0,277.0 431.3,277.7 430.6,278.5 430.0,279.2 429.3,280.0 428.6,280.7 428.1,281.6 427.7,282.5 427.2,283.4 426.7,284.3 426.2,285.2 425.8,286.0 425.3,286.9 424.8,287.8 424.3,288.7 423.9,289.6 423.4,290.5 423.0,291.4 422.6,292.3 422.2,293.3 421.7,294.2 421.3,295.1 420.9,296.0 420.5,296.9 420.1,297.9 419.7,298.8 419.3,299.7 418.9,300.6 418.4,301.5 418.0,302.5 417.6,303.4 417.2,304.3 416.9,305.3 416.6,306.3 416.4,307.3 416.1,308.3 415.8,309.3 415.5,310.3 415.3,311.3 415.0,312.3 414.7,313.4 414.4,314.4 414.2,315.4 413.9,316.4 413.6,317.4 413.3,318.4 413.1,319.4 412.8,320.4 412.5,321.4 412.3,322.4 412.1,323.4 411.9,324.5 411.8,325.5 411.6,326.5 411.4,327.5 411.2,328.6 411.0,329.6 410.8,330.6 410.7,331.6 410.5,332.7 410.3,333.7 410.1,334.7 410.0,335.8 410.0,336.8 409.9,337.9 409.8,338.9 409.8,340.0 409.7,341.0 409.7,342.1 409.6,343.1 409.5,344.2 409.5,345.2 409.4,346.3 409.4,347.4 409.4,348.4 409.4,349.5 409.4,350.5 409.4,351.6 409.4,352.6 409.5,353.7 409.5,354.7 409.5,355.8 409.5,356.8 409.5,357.9 409.5,358.9 409.5,360.0 409.5,361.0 409.5,362.1 409.5,363.1 409.5,364.2 409.5,365.2 409.5,366.3 409.5,367.3 409.6,368.4 409.6,369.4 409.6,370.5 409.6,371.5 409.6,372.6 409.6,373.6 409.6,374.7 409.6,375.7 409.6,376.8 409.7,377.9 409.7,379.0 409.7,380.0 409.7,381.1 409.8,382.2 409.8,383.3 410.7,383.8 411.6,384.3 412.5,384.9 413.4,385.4 414.3,385.9 415.1,386.4 416.0,387.0 416.9,387.5 417.8,388.0 418.7,388.5 419.6,389.1 420.5,389.6 421.4,390.1 422.3,390.6 423.2,391.2 424.0,391.7 424.9,392.2 425.8,392.7 426.7,393.3 427.6,393.8 428.5,394.3 429.5,394.7 430.4,395.0 431.4,395.4 432.4,395.8 433.4,396.1 434.4,396.5 435.3,396.8 436.3,397.2 437.3,397.6 438.2,397.9 439.2,398.3 440.2,398.7 441.2,399.0 442.2,399.4 443.1,399.7 444.1,400.1 445.1,400.3 446.1,400.5 447.0,400.8 448.0,401.0 449.0,401.2 450.0,401.4 451.0,401.6 452.0,401.9 452.9,402.1 453.9,402.3 454.9,402.5 455.9,402.7 456.9,402.9 457.8,403.2 458.8,403.4 459.8,403.6 460.8,403.8 461.9,403.9 462.9,404.1 464.0,404.3 465.0,404.5 466.0,404.6 467.1,404.8 468.1,405.0 469.2,405.2 470.2,405.3 471.2,405.5 472.3,405.7 473.3,405.9 474.4,406.0 475.4,406.2 476.4,406.3 477.5,406.3 478.5,406.4 479.6,406.5 480.6,406.5 481.7,406.6 482.7,406.7 483.8,406.7 484.8,406.8 485.9,406.9 486.9,406.9 488.0,407.0 489.0,407.1 490.1,407.1 491.1,407.2 492.2,407.2 493.3,407.2 494.3,407.3 495.4,407.3 496.5,407.3 497.6,407.3 498.7,407.4 499.8,407.4 500.8,407.4 501.9,407.3 503.0,407.3 504.1,407.3 505.2,407.3 506.2,407.2 507.3,407.2 508.4,407.2 509.4,407.1 510.5,407.1 511.5,407.0 512.6,406.9 513.6,406.9 514.7,406.8 515.7,406.7 516.8,406.7 517.8,406.6 518.9,406.5 519.9,406.5 521.0,406.4 522.0,406.3 523.1,406.3 524.1,406.2 525.1,406.0 526.2,405.9 527.2,405.7 528.3,405.5 529.3,405.3 530.3,405.2 531.4,405.0 532.4,404.8 533.5,404.6 534.5,404.5 535.5,404.3 536.6,404.1 537.6,403.9 538.7,403.8 539.7,403.6 540.7,403.4 541.7,403.2 542.6,402.9 543.6,402.7 544.6,402.5 545.6,402.3 546.6,402.1 547.5,401.9 548.5,401.6 549.5,401.4 550.5,401.2 551.5,401.0 552.5,400.8 553.4,400.5 554.4,400.3 555.4,400.1 556.4,399.7 557.3,399.4 558.3,399.0 559.3,398.7 560.3,398.3 561.2,397.9 562.2,397.6 563.2,397.2 564.2,396.8 565.1,396.5 566.1,396.1 567.1,395.8 568.1,395.4 569.0,395.0 570.0,394.7 571.0,394.3 571.9,393.8 572.8,393.3 573.7,392.7 574.6,392.2 575.5,391.7 576.3,391.2 577.2,390.6 578.1,390.1 579.0,389.6 579.9,389.1 580.8,388.5 581.7,388.0 582.6,387.5 583.5,387.0 584.4,386.4 585.2,385.9 586.1,385.4 587.0,384.9 587.9,384.3 588.8,383.8 589.7,383.3 589.7,382.2 589.8,381.1 589.8,380.0 589.8,379.0 589.8,377.9 589.9,376.8 589.9,375.7 589.9,374.7 589.9,373.6 589.9,372.6 589.9,371.5 589.9,370.5 589.9,369.4 589.9,368.4 590.0,367.3 590.0,366.3 590.0,365.2 590.0,364.2 590.0,363.1 590.0,362.1 590.0,361.0 590.0,360.0 590.0,358.9 590.0,357.9 590.0,356.8 590.0,355.8 590.0,354.7 590.0,353.7 590.1,352.6 590.1,351.6 590.1,350.5 590.1,349.5 590.1,348.4 590.1,347.4 590.1,346.3 590.0,345.2 590.0,344.2 589.9,343.1 589.8,342.1 589.8,341.0 589.7,340.0 589.7,338.9 589.6,337.9 589.5,336.8 589.5,335.8 589.4,334.7 589.2,333.7 589.0,332.7 588.8,331.6 588.7,330.6 588.5,329.6 588.3,328.6 588.1,327.5 587.9,326.5 587.7,325.5 587.6,324.5 587.4,323.4 587.2,322.4 587.0,321.4 586.7,320.4 586.4,319.4 586.2,318.4 585.9,317.4 585.6,316.4 585.3,315.4 585.1,314.4 584.8,313.4 584.5,312.3 584.2,311.3 584.0,310.3 583.7,309.3 583.4,308.3 583.1,307.3 582.9,306.3 582.6,305.3 582.3,304.3 581.9,303.4 581.5,302.5 581.1,301.5 580.6,300.6 580.2,299.7 579.8,298.8 579.4,297.9 579.0,296.9 578.6,296.0 578.2,295.1 577.8,294.2 577.3,293.3 576.9,292.3 576.5,291.4 576.1,290.5 575.6,289.6 575.2,288.7 574.7,287.8 574.2,286.9 573.7,286.0 573.3,285.2 572.8,284.3 572.3,283.4 571.8,282.5 571.4,281.6 570.9,280.7 570.2,280.0 569.5,279.2 568.9,278.5 568.2,277.7 567.5,277.0 566.8,276.3 566.1,275.5 565.5,274.8 564.8,274.0 564.1,273.3 563.4,272.6 562.7,271.8 561.9,271.1 561.2,270.4 560.5,269.6 559.8,268.9 559.1,268.2 558.3,267.5 557.6,266.7 556.9,266.0 556.0,265.3 555.2,264.6 554.3,263.9 553.5,263.2 552.6,262.5 551.8,261.8 550.9,261.1 550.1,260.4 549.2,259.7 548.4,259.1 547.5,258.5 546.7,257.9 545.8,257.4 545.0,256.8 544.1,256.2 543.3,255.6 542.4,255.1 541.5,254.6 540.6,254.1 539.7,253.6 538.8,253.1 537.9,252.7 537.0,252.2 536.1,251.7 535.2,251.2 534.3,250.7 533.3,250.3 532.3,249.9 531.3,249.5 530.3,249.1 529.3,248.6 528.3,248.2 527.3,247.8 526.3,247.4 525.3,247.0 524.3,246.8 523.3,246.5 522.3,246.3 521.3,246.0 520.2,245.8 519.2,245.5 518.2,245.3 517.2,245.0 516.2,244.8 515.2,244.6 514.1,244.5 513.1,244.3 512.1,244.2 511.1,244.0 510.1,243.8 509.0,243.7 508.0,243.5 507.0,243.5 505.9,243.5 504.9,243.5 503.9,243.4 502.8,243.4 501.8,243.4 500.8,243.4"/></clipPath>
<polygon points="499.8,243.4 498.7,243.4 497.7,243.4 496.7,243.4 495.6,243.4 494.6,243.5 493.6,243.5 492.5,243.5 491.5,243.5 490.5,243.7 489.4,243.8 488.4,244.0 487.4,244.2 486.4,244.3 485.4,244.5 484.3,244.6 483.3,244.8 482.3,245.0 481.3,245.3 480.3,245.5 479.3,245.8 478.2,246.0 477.2,246.3 476.2,246.5 475.2,246.8 474.2,247.0 473.2,247.4 472.2,247.8 471.2,248.2 470.2,248.6 469.2,249.1 468.2,249.5 467.2,249.9 466.2,250.3 465.2,250.7 464.3,251.2 463.4,251.7 462.5,252.2 461.6,252.7 460.7,253.1 459.8,253.6 458.9,254.1 458.0,254.6 457.1,255.1 456.2,255.6 455.4,256.2 454.5,256.8 453.7,257.4 452.8,257.9 452.0,258.5 451.1,259.1 450.3,259.7 449.4,260.4 448.6,261.1 447.7,261.8 446.9,262.5 446.0,263.2 445.2,263.9 444.3,264.6 443.5,265.3 442.6,266.0 441.9,266.7 441.2,267.5 440.4,268.2 439.7,268.9 439.0,269.6 438.3,270.4 437.6,271.1 436.8,271.8 436.1,272.6 435.4,273.3 434.7,274.0 434.0,274.8 433.4,275.5 432.7,276.3 432.0,277.0 431.3,277.7 430.6,278.5 430.0,279.2 429.3,280.0 428.6,280.7 428.1,281.6 427.7,282.5 427.2,283.4 426.7,284.3 426.2,285.2 425.8,286.0 425.3,286.9 424.8,287.8 424.3,288.7 423.9,289.6 423.4,290.5 423.0,291.4 422.6,292.3 422.2,293.3 421.7,294.2 421.3,295.1 420.9,296.0 420.5,296.9 420.1,297.9 419.7,298.8 419.3,299.7 418.9,300.6 418.4,301.5 418.0,302.5 417.6,303.4 417.2,304.3 416.9,305.3 416.6,306.3 416.4,307.3 416.1,308.3 415.8,309.3 415.5,310.3 415.3,311.3 415.0,312.3 414.7,313.4 414.4,314.4 414.2,315.4 413.9,316.4 413.6,317.4 413.3,318.4 413.1,319.4 412.8,320.4 412.5,321.4 412.3,322.4 412.1,323.4 411.9,324.5 411.8,325.5 411.6,326.5 411.4,327.5 411.2,328.6 411.0,329.6 410.8,330.6 410.7,331.6 410.5,332.7 410.3,333.7 410.1,334.7 410.0,335.8 410.0,336.8 409.9,337.9 409.8,338.9 409.8,340.0 409.7,341.0 409.7,342.1 409.6,343.1 409.5,344.2 409.5,345.2 409.4,346.3 409.4,347.4 409.4,348.4 409.4,349.5 409.4,350.5 409.4,351.6 409.4,352.6 409.5,353.7 409.5,354.7 409.5,355.8 409.5,356.8 409.5,357.9 409.5,358.9 409.5,360.0 409.5,361.0 409.5,362.1 409.5,363.1 409.5,364.2 409.5,365.2 409.5,366.3 409.5,367.3 409.6,368.4 409.6,369.4 409.6,370.5 409.6,371.5 409.6,372.6 409.6,373.6 409.6,374.7 409.6,375.7 409.6,376.8 409.7,377.9 409.7,379.0 409.7,380.0 409.7,381.1 409.8,382.2 409.8,383.3 410.7,383.8 411.6,384.3 412.5,384.9 413.4,385.4 414.3,385.9 415.1,386.4 416.0,387.0 416.9,387.5 417.8,388.0 418.7,388.5 419.6,389.1 420.5,389.6 421.4,390.1 422.3,390.6 423.2,391.2 424.0,391.7 424.9,392.2 425.8,392.7 426.7,393.3 427.6,393.8 428.5,394.3 429.5,394.7 430.4,395.0 431.4,395.4 432.4,395.8 433.4,396.1 434.4,396.5 435.3,396.8 436.3,397.2 437.3,397.6 438.2,397.9 439.2,398.3 440.2,398.7 441.2,399.0 442.2,399.4 443.1,399.7 444.1,400.1 445.1,400.3 446.1,400.5 447.0,400.8 448.0,401.0 449.0,401.2 450.0,401.4 451.0,401.6 452.0,401.9 452.9,402.1 453.9,402.3 454.9,402.5 455.9,402.7 456.9,402.9 457.8,403.2 458.8,403.4 459.8,403.6 460.8,403.8 461.9,403.9 462.9,404.1 464.0,404.3 465.0,404.5 466.0,404.6 467.1,404.8 468.1,405.0 469.2,405.2 470.2,405.3 471.2,405.5 472.3,405.7 473.3,405.9 474.4,406.0 475.4,406.2 476.4,406.3 477.5,406.3 478.5,406.4 479.6,406.5 480.6,406.5 481.7,406.6 482.7,406.7 483.8,406.7 484.8,406.8 485.9,406.9 486.9,406.9 488.0,407.0 489.0,407.1 490.1,407.1 491.1,407.2 492.2,407.2 493.3,407.2 494.3,407.3 495.4,407.3 496.5,407.3 497.6,407.3 498.7,407.4 499.8,407.4 500.8,407.4 501.9,407.3 503.0,407.3 504.1,407.3 505.2,407.3 506.2,407.2 507.3,407.2 508.4,407.2 509.4,407.1 510.5,407.1 511.5,407.0 512.6,406.9 513.6,406.9 514.7,406.8 515.7,406.7 516.8,406.7 517.8,406.6 518.9,406.5 519.9,406.5 521.0,406.4 522.0,406.3 523.1,406.3 524.1,406.2 525.1,406.0 526.2,405.9 527.2,405.7 528.3,405.5 529.3,405.3 530.3,405.2 531.4,405.0 532.4,404.8 533.5,404.6 534.5,404.5 535.5,404.3 536.6,404.1 537.6,403.9 538.7,403.8 539.7,403.6 540.7,403.4 541.7,403.2 542.6,402.9 543.6,402.7 544.6,402.5 545.6,402.3 546.6,402.1 547.5,401.9 548.5,401.6 549.5,401.4 550.5,401.2 551.5,401.0 552.5,400.8 553.4,400.5 554.4,400.3 555.4,400.1 556.4,399.7 557.3,399.4 558.3,399.0 559.3,398.7 560.3,398.3 561.2,397.9 562.2,397.6 563.2,397.2 564.2,396.8 565.1,396.5 566.1,396.1 567.1,395.8 568.1,395.4 569.0,395.0 570.0,394.7 571.0,394.3 571.9,393.8 572.8,393.3 573.7,392.7 574.6,392.2 575.5,391.7 576.3,391.2 577.2,390.6 578.1,390.1 579.0,389.6 579.9,389.1 580.8,388.5 581.7,388.0 582.6,387.5 583.5,387.0 584.4,386.4 585.2,385.9 586.1,385.4 587.0,384.9 587.9,384.3 588.8,383.8 589.7,383.3 589.7,382.2 589.8,381.1 589.8,380.0 589.8,379.0 589.8,377.9 589.9,376.8 589.9,375.7 589.9,374.7 589.9,373.6 589.9,372.6 589.9,371.5 589.9,370.5 589.9,369.4 589.9,368.4 590.0,367.3 590.0,366.3 590.0,365.2 590.0,364.2 590.0,363.1 590.0,362.1 590.0,361.0 590.0,360.0 590.0,358.9 590.0,357.9 590.0,356.8 590.0,355.8 590.0,354.7 590.0,353.7 590.1,352.6 590.1,351.6 590.1,350.5 590.1,349.5 590.1,348.4 590.1,347.4 590.1,346.3 590.0,345.2 590.0,344.2 589.9,343.1 589.8,342.1 589.8,341.0 589.7,340.0 589.7,338.9 589.6,337.9 589.5,336.8 589.5,335.8 589.4,334.7 589.2,333.7 589.0,332.7 588.8,331.6 588.7,330.6 588.5,329.6 588.3,328.6 588.1,327.5 587.9,326.5 587.7,325.5 587.6,324.5 587.4,323.4 587.2,322.4 587.0,321.4 586.7,320.4 586.4,319.4 586.2,318.4 585.9,317.4 585.6,316.4 585.3,315.4 585.1,314.4 584.8,313.4 584.5,312.3 584.2,311.3 584.0,310.3 583.7,309.3 583.4,308.3 583.1,307.3 582.9,306.3 582.6,305.3 582.3,304.3 581.9,303.4 581.5,302.5 581.1,301.5 580.6,300.6 580.2,299.7 579.8,298.8 579.4,297.9 579.0,296.9 578.6,296.0 578.2,295.1 577.8,294.2 577.3,293.3 576.9,292.3 576.5,291.4 576.1,290.5 575.6,289.6 575.2,288.7 574.7,287.8 574.2,286.9 573.7,286.0 573.3,285.2 572.8,284.3 572.3,283.4 571.8,282.5 571.4,281.6 570.9,280.7 570.2,280.0 569.5,279.2 568.9,278.5 568.2,277.7 567.5,277.0 566.8,276.3 566.1,275.5 565.5,274.8 564.8,274.0 564.1,273.3 563.4,272.6 562.7,271.8 561.9,271.1 561.2,270.4 560.5,269.6 559.8,268.9 559.1,268.2 558.3,267.5 557.6,266.7 556.9,266.0 556.0,265.3 555.2,264.6 554.3,263.9 553.5,263.2 552.6,262.5 551.8,261.8 550.9,261.1 550.1,260.4 549.2,259.7 548.4,259.1 547.5,258.5 546.7,257.9 545.8,257.4 545.0,256.8 544.1,256.2 543.3,255.6 542.4,255.1 541.5,254.6 540.6,254.1 539.7,253.6 538.8,253.1 537.9,252.7 537.0,252.2 536.1,251.7 535.2,251.2 534.3,250.7 533.3,250.3 532.3,249.9 531.3,249.5 530.3,249.1 529.3,248.6 528.3,248.2 527.3,247.8 526.3,247.4 525.3,247.0 524.3,246.8 523.3,246.5 522.3,246.3 521.3,246.0 520.2,245.8 519.2,245.5 518.2,245.3 517.2,245.0 516.2,244.8 515.2,244.6 514.1,244.5 513.1,244.3 512.1,244.2 511.1,244.0 510.1,243.8 509.0,243.7 508.0,243.5 507.0,243.5 505.9,243.5 504.9,243.5 503.9,243.4 502.8,243.4 501.8,243.4 500.8,243.4" fill="none" stroke="#3c3c44" stroke-width="2.5" stroke-linejoin="round" clip-path="url(#tc)"/>
<line x1="16.0" y1="559.4" x2="1400.0" y2="559.4" stroke="#202020" stroke-width="1.20" />
<line x1="16.4" y1="0.0" x2="16.4" y2="559.4" stroke="#303030" stroke-width="1.20" />
<path d="M23.5 561V564.7M30.5 561.2V563M38.5 561.2V563M45.5 561.2V563M52.5 561.2V563M60.5 561V564.7M67.5 561.2V563M74.5 561.2V563M82.5 561.2V563M89.5 561.2V563M96.5 561V564.7M104.5 561.2V563M111.5 561.2V563M118.5 561.2V563M126.5 561.2V563M133.5 561V564.7M140.5 561.2V563M148.5 561.2V563M155.5 561.2V563M162.5 561.2V563M170.5 561V564.7M177.5 561.2V563M184.5 561.2V563M192.5 561.2V563M199.5 561.2V563M206.5 561V564.7M214.5 561.2V563M221.5 561.2V563M228.5 561.2V563M235.5 561.2V563M243.5 561V564.7M250.5 561.2V563M257.5 561.2V563M265.5 561.2V563M272.5 561.2V563M279.5 561V564.7M287.5 561.2V563M294.5 561.2V563M301.5 561.2V563M309.5 561.2V563M316.5 561V564.7M323.5 561.2V563M331.5 561.2V563M338.5 561.2V563M345.5 561.2V563M353.5 561V564.7M360.5 561.2V563M367.5 561.2V563M375.5 561.2V563M382.5 561.2V563M389.5 561V564.7M397.5 561.2V563M404.5 561.2V563M411.5 561.2V563M419.5 561.2V563M426.5 561V564.7M433.5 561.2V563M441.5 561.2V563M448.5 561.2V563M455.5 561.2V563M462.5 561V564.7M470.5 561.2V563M477.5 561.2V563M484.5 561.2V563M492.5 561.2V563M499.5 561V564.7M506.5 561.2V563M514.5 561.2V563M521.5 561.2V563M528.5 561.2V563M536.5 561V564.7M543.5 561.2V563M550.5 561.2V563M558.5 561.2V563M565.5 561.2V563M572.5 561V564.7M580.5 561.2V563M587.5 561.2V563M594.5 561.2V563M602.5 561.2V563M609.5 561V564.7M616.5 561.2V563M624.5 561.2V563M631.5 561.2V563M638.5 561.2V563M646.5 561V564.7M653.5 561.2V563M660.5 561.2V563M668.5 561.2V563M675.5 561.2V563M682.5 561V564.7M689.5 561.2V563M697.5 561.2V563M704.5 561.2V563M711.5 561.2V563M719.5 561V564.7M726.5 561.2V563M733.5 561.2V563M741.5 561.2V563M748.5 561.2V563M755.5 561V564.7M763.5 561.2V563M770.5 561.2V563M777.5 561.2V563M785.5 561.2V563M792.5 561V564.7M799.5 561.2V563M807.5 561.2V563M814.5 561.2V563M821.5 561.2V563M829.5 561V564.7M836.5 561.2V563M843.5 561.2V563M851.5 561.2V563M858.5 561.2V563M865.5 561V564.7M873.5 561.2V563M880.5 561.2V563M887.5 561.2V563M895.5 561.2V563M902.5 561V564.7M909.5 561.2V563M916.5 561.2V563M924.5 561.2V563M931.5 561.2V563M938.5 561V564.7M946.5 561.2V563M953.5 561.2V563M960.5 561.2V563M968.5 561.2V563M975.5 561V564.7M982.5 561.2V563M990.5 561.2V563M997.5 561.2V563M1004.5 561.2V563M1012.5 561V564.7M1019.5 561.2V563M1026.5 561.2V563M1034.5 561.2V563M1041.5 561.2V563M1048.5 561V564.7M1056.5 561.2V563M1063.5 561.2V563M1070.5 561.2V563M1078.5 561.2V563M1085.5 561V564.7M1092.5 561.2V563M1100.5 561.2V563M1107.5 561.2V563M1114.5 561.2V563M1122.5 561V564.7M1129.5 561.2V563M1136.5 561.2V563M1143.5 561.2V563M1151.5 561.2V563M1158.5 561V564.7M1165.5 561.2V563M1173.5 561.2V563M1180.5 561.2V563M1187.5 561.2V563M1195.5 561V564.7M1202.5 561.2V563M1209.5 561.2V563M1217.5 561.2V563M1224.5 561.2V563M1231.5 561V564.7M1239.5 561.2V563M1246.5 561.2V563M1253.5 561.2V563M1261.5 561.2V563M1268.5 561V564.7M1275.5 561.2V563M1283.5 561.2V563M1290.5 561.2V563M1297.5 561.2V563M1305.5 561V564.7M1312.5 561.2V563M1319.5 561.2V563M1327.5 561.2V563M1334.5 561.2V563M1341.5 561V564.7M1349.5 561.2V563M1356.5 561.2V563M1363.5 561.2V563M1370.5 561.2V563M1378.5 561V564.7M1385.5 561.2V563M1392.5 561.2V563" stroke="#202020" stroke-width="1" fill="none"/>
<path d="M11 553.5H15.2M13 545.5H14.8M13 538.5H14.8M13 531.5H14.8M13 523.5H14.8M11 516.5H15.2M13 509.5H14.8M13 501.5H14.8M13 494.5H14.8M13 487.5H14.8M11 479.5H15.2M13 472.5H14.8M13 465.5H14.8M13 457.5H14.8M13 450.5H14.8M11 443.5H15.2M13 435.5H14.8M13 428.5H14.8M13 421.5H14.8M13 413.5H14.8M11 406.5H15.2M13 399.5H14.8M13 391.5H14.8M13 384.5H14.8M13 377.5H14.8M11 369.5H15.2M13 362.5H14.8M13 355.5H14.8M13 347.5H14.8M13 340.5H14.8M11 333.5H15.2M13 325.5H14.8M13 318.5H14.8M13 311.5H14.8M13 303.5H14.8M11 296.5H15.2M13 289.5H14.8M13 281.5H14.8M13 274.5H14.8M13 267.5H14.8M11 259.5H15.2M13 252.5H14.8M13 245.5H14.8M13 237.5H14.8M13 230.5H14.8M11 223.5H15.2M13 215.5H14.8M13 208.5H14.8M13 201.5H14.8M13 193.5H14.8M11 186.5H15.2M13 179.5H14.8M13 171.5H14.8M13 164.5H14.8M13 157.5H14.8M11 149.5H15.2M13 142.5H14.8M13 135.5H14.8M13 127.5H14.8M13 120.5H14.8M11 113.5H15.2M13 105.5H14.8M13 98.5H14.8M13 91.5H14.8M13 83.5H14.8M11 76.5H15.2M13 69.5H14.8M13 61.5H14.8M13 54.5H14.8M13 47.5H14.8M11 39.5H15.2M13 32.5H14.8M13 25.5H14.8M13 17.5H14.8M13 10.5H14.8M11 3.5H15.2" stroke="#202020" stroke-width="1" fill="none"/>
<g font-family="Liberation Sans, Arial, sans-serif" font-size="9" fill="#202020" text-anchor="middle">
<text x="59.8" y="572.2">-30</text>
<text x="133.0" y="572.2">-25</text>
<text x="206.2" y="572.2">-20</text>
<text x="279.4" y="572.2">-15</text>
<text x="352.7" y="572.2">-10</text>
<text x="425.9" y="572.2">-5</text>
<text x="499.1" y="572.2">0</text>
<text x="572.3" y="572.2">5</text>
<text x="645.5" y="572.2">10</text>
<text x="718.8" y="572.2">15</text>
<text x="792.0" y="572.2">20</text>
<text x="865.2" y="572.2">25</text>
<text x="938.5" y="572.2">30</text>
<text x="1011.7" y="572.2">35</text>
<text x="1084.9" y="572.2">40</text>
<text x="1158.1" y="572.2">45</text>
<text x="1231.3" y="572.2">50</text>
<text x="1304.6" y="572.2">55</text>
<text x="1377.8" y="572.2">60</text>
<text transform="translate(8.8,517.0) rotate(-90)">-10</text>
<text transform="translate(8.8,443.6) rotate(-90)">-5</text>
<text transform="translate(8.8,370.3) rotate(-90)">0</text>
<text transform="translate(8.8,297.0) rotate(-90)">5</text>
<text transform="translate(8.8,223.6) rotate(-90)">10</text>
<text transform="translate(8.8,150.2) rotate(-90)">15</text>
<text transform="translate(8.8,76.9) rotate(-90)">20</text>
<text transform="translate(8.8,3.6) rotate(-90)">25</text>
</g>
<g stroke="#000080" stroke-width="1" fill="none"><path d="M1350.5 14V36"/><rect x="1344.5" y="38.5" width="12" height="24"/><path d="M1368.5 50.5H1358"/></g>
<polygon points="1347.0,31.5 1354.0,31.5 1350.5,38.3" fill="#000080" />
<polygon points="1360.3,44.2 1360.3,56.8 1356.6,50.5" fill="#000080" />
<rect x="35.8" y="18.2" width="86.5" height="323.0" fill="#fff" stroke="#303030" stroke-width="1.3"/>
<rect x="43.3" y="54.40" width="33.4" height="13.89" fill="#0000ff" stroke="#101030" stroke-width="0.9"/>
<rect x="43.3" y="68.29" width="33.4" height="13.89" fill="#0033ff" stroke="#101030" stroke-width="0.9"/>
<rect x="43.3" y="82.18" width="33.4" height="13.89" fill="#0066ff" stroke="#101030" stroke-width="0.9"/>
<rect x="43.3" y="96.07" width="33.4" height="13.89" fill="#0099ff" stroke="#101030" stroke-width="0.9"/>
<rect x="43.3" y="109.96" width="33.4" height="13.89" fill="#00ccff" stroke="#101030" stroke-width="0.9"/>
<rect x="43.3" y="123.85" width="33.4" height="13.89" fill="#00ffff" stroke="#101030" stroke-width="0.9"/>
<rect x="43.3" y="137.74" width="33.4" height="13.89" fill="#00ffcc" stroke="#101030" stroke-width="0.9"/>
<rect x="43.3" y="151.63" width="33.4" height="13.89" fill="#00ff99" stroke="#101030" stroke-width="0.9"/>
<rect x="43.3" y="165.52" width="33.4" height="13.89" fill="#00ff66" stroke="#101030" stroke-width="0.9"/>
<rect x="43.3" y="179.41" width="33.4" height="13.89" fill="#00ff33" stroke="#101030" stroke-width="0.9"/>
<rect x="43.3" y="193.30" width="33.4" height="13.89" fill="#00ff00" stroke="#101030" stroke-width="0.9"/>
<rect x="43.3" y="207.19" width="33.4" height="13.89" fill="#33ff00" stroke="#101030" stroke-width="0.9"/>
<rect x="43.3" y="221.08" width="33.4" height="13.89" fill="#66ff00" stroke="#101030" stroke-width="0.9"/>
<rect x="43.3" y="234.97" width="33.4" height="13.89" fill="#99ff00" stroke="#101030" stroke-width="0.9"/>
<rect x="43.3" y="248.86" width="33.4" height="13.89" fill="#ccff00" stroke="#101030" stroke-width="0.9"/>
<rect x="43.3" y="262.75" width="33.4" height="13.89" fill="#ffff00" stroke="#101030" stroke-width="0.9"/>
<rect x="43.3" y="276.64" width="33.4" height="13.89" fill="#ffcc00" stroke="#101030" stroke-width="0.9"/>
<rect x="43.3" y="290.53" width="33.4" height="13.89" fill="#ff9900" stroke="#101030" stroke-width="0.9"/>
<rect x="43.3" y="304.42" width="33.4" height="13.89" fill="#ff5500" stroke="#101030" stroke-width="0.9"/>
<rect x="43.3" y="318.31" width="33.4" height="13.89" fill="#ff0000" stroke="#101030" stroke-width="0.9"/>
<g font-family="Liberation Mono, Courier New, monospace" font-size="10" fill="#303030">
<text x="43" y="33.4">Sigma 3</text><text x="43" y="47">MPa</text>
<text x="114.3" y="58.6" text-anchor="end">-0.03</text>
<text x="114.3" y="72.5" text-anchor="end">0.01</text>
<text x="114.3" y="86.4" text-anchor="end">0.04</text>
<text x="114.3" y="100.3" text-anchor="end">0.08</text>
<text x="114.3" y="114.2" text-anchor="end">0.11</text>
<text x="114.3" y="128.0" text-anchor="end">0.15</text>
<text x="114.3" y="141.9" text-anchor="end">0.18</text>
<text x="114.3" y="155.8" text-anchor="end">0.22</text>
<text x="114.3" y="169.7" text-anchor="end">0.25</text>
<text x="114.3" y="183.6" text-anchor="end">0.29</text>
<text x="114.3" y="197.5" text-anchor="end">0.32</text>
<text x="114.3" y="211.4" text-anchor="end">0.36</text>
<text x="114.3" y="225.3" text-anchor="end">0.39</text>
<text x="114.3" y="239.2" text-anchor="end">0.43</text>
<text x="114.3" y="253.1" text-anchor="end">0.46</text>
<text x="114.3" y="266.9" text-anchor="end">0.50</text>
<text x="114.3" y="280.8" text-anchor="end">0.53</text>
<text x="114.3" y="294.7" text-anchor="end">0.57</text>
<text x="114.3" y="308.6" text-anchor="end">0.60</text>
<text x="114.3" y="322.5" text-anchor="end">0.64</text>
<text x="114.3" y="336.4" text-anchor="end">0.67</text>
</g>
</svg></body></html>
